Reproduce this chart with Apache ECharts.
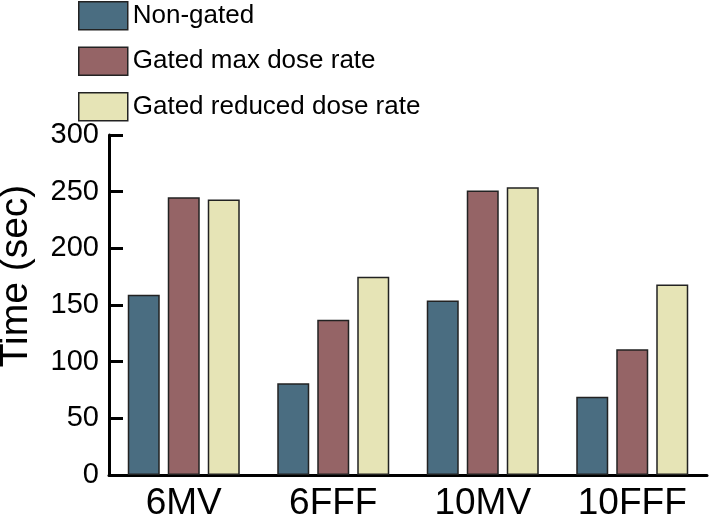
<!DOCTYPE html>
<html><head><meta charset="utf-8">
<script src="https://cdn.jsdelivr.net/npm/echarts@6/dist/echarts.min.js"></script>
<style>html,body{margin:0;padding:0;background:#fff}#c{width:709px;height:517px}</style>
</head><body><div id="c"></div>
<script>
const categories = ['6MV', '6FFF', '10MV', '10FFF'];
const seriesNames = ['Non-gated', 'Gated max dose rate', 'Gated reduced dose rate'];
const nonGated = [159, 81, 154, 69];
const gatedMax = [245, 137, 251, 111];
const gatedReduced = [243, 175, 254, 168];
const yTicks = [0, 50, 100, 150, 200, 250, 300];
const colors = ['#4a6d81', '#956466', '#e6e4b6'];

const chart = echarts.init(document.getElementById('c'), null, {renderer: 'canvas'});
const values = [nonGated, gatedMax, gatedReduced];
chart.setOption({
  animation: false,
  backgroundColor: '#fff',
  grid: {left: 109, right: 2, top: 135, bottom: 42, containLabel: false, outerBoundsMode: 'none'},
  legend: {
    orient: 'vertical', left: 78, top: 1, padding: 0,
    icon: 'rect',
    itemWidth: 49, itemHeight: 28, itemGap: 16,
    itemStyle: {borderColor: '#222', borderWidth: 1.5},
    textStyle: {fontFamily: '"Liberation Sans", Arial, sans-serif', fontSize: 26, color: '#000', lineHeight: 28},
    data: seriesNames
  },
  xAxis: {
    type: 'category', data: categories,
    axisLine: {lineStyle: {color: '#000', width: 3}},
    axisTick: {inside: true, length: 8, lineStyle: {color: '#000', width: 3}},
    axisLabel: {color: '#000', fontSize: 37, margin: 10, fontFamily: '"Liberation Sans", Arial, sans-serif'}
  },
  yAxis: {
    type: 'value', min: yTicks[0], max: yTicks[yTicks.length - 1], interval: 50,
    name: 'Time (sec)', nameLocation: 'middle', nameGap: 73,
    nameTextStyle: {color: '#000', fontSize: 39, fontFamily: '"Liberation Sans", Arial, sans-serif', padding: [0, 0, 0, 58]},
    axisLine: {show: true, lineStyle: {color: '#000', width: 3}},
    axisTick: {show: true, inside: true, length: 14, lineStyle: {color: '#000', width: 3}},
    axisLabel: {color: '#000', fontSize: 29, margin: 10, fontFamily: '"Liberation Sans", Arial, sans-serif'},
    splitLine: {show: false}
  },
  series: seriesNames.map((n, i) => ({
    name: n, type: 'bar', data: values[i],
    barWidth: 32, barGap: '25%',
    itemStyle: {color: colors[i], borderColor: '#222', borderWidth: 1.5}
  }))
});
</script></body></html>
